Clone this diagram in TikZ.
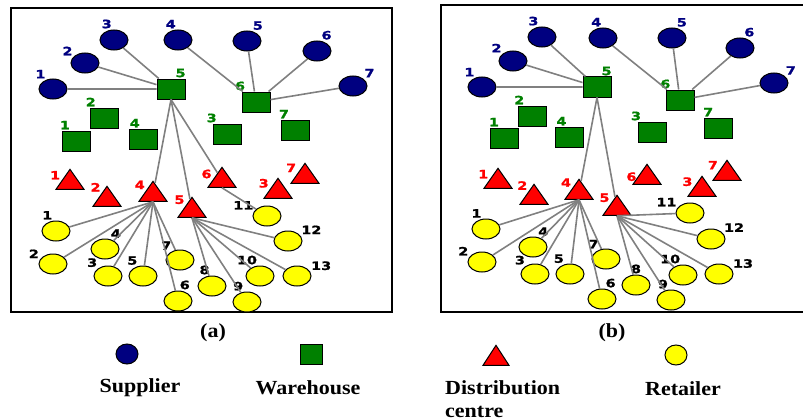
\documentclass[tikz,border=0pt]{standalone}
\usepackage{fontspec}
\setmainfont{Liberation Serif}[FakeStretch=1.1]
\newfontfamily\numfont[FakeStretch=1.25, BoldFeatures={FakeBold=1.2}]{DejaVu Sans}
\usetikzlibrary{positioning}
\usetikzlibrary{shapes.geometric}

\definecolor{supblue}{RGB}{0,0,128}
\definecolor{waregreen}{RGB}{0,128,0}
\definecolor{distred}{RGB}{255,0,0}
\definecolor{retyellow}{RGB}{255,255,0}
\definecolor{linkgray}{RGB}{128,128,128}

\tikzset{
  sup/.style={ellipse, draw=black, line width=1pt, fill=supblue, minimum width=28pt, minimum height=20pt, inner sep=0pt},
  ware/.style={rectangle, draw=black, line width=1pt, fill=waregreen, minimum width=28pt, minimum height=20pt, inner sep=0pt},
  dist/.style={isosceles triangle, isosceles triangle stretches, shape border rotate=90, draw=black, line width=1pt, fill=distred, minimum width=28pt, minimum height=20pt, inner sep=0pt, anchor=apex},
  ret/.style={ellipse, draw=black, line width=1pt, fill=retyellow, minimum width=28pt, minimum height=20pt, inner sep=0pt},
  num/.style={font=\numfont\fontsize{11.5}{11.5}\selectfont\bfseries, inner sep=1pt},
  nsup/.style={num, text=supblue},
  nware/.style={num, text=waregreen},
  ndist/.style={num, text=distred},
  nret/.style={num, text=black},
  link/.style={draw=linkgray, line width=1.6pt},
  panel/.style={draw=black, line width=2.5pt},
  legtxt/.style={font=\fontsize{20}{23}\selectfont\bfseries, inner sep=0pt},
}

\begin{document}
\begin{tikzpicture}[x=1pt, y=-1pt]
    \useasboundingbox (0,0) rectangle (803,420);
    \clip (0,0) rectangle (803,420);

    % panel (a)
    \draw[panel] (11,8) rectangle (392,312);

    \node[sup, label={[nsup]124:1}] (as1) at (53,89)  {};
    \node[sup, label={[nsup]150:2}] (as2) at (85,63)  {};
    \node[sup, label={[nsup]96:3}]  (as3) at (114,40) {};
    \node[sup, label={[nsup]96:4}]  (as4) at (178,40) {};
    \node[sup, label={[nsup]65:5}]  (as5) at (247,41) {};
    \node[sup, label={[nsup]72:6}]  (as6) at (317,51) {};
    \node[sup, label={[nsup]36:7}]  (as7) at (353,86) {};

    \node[ware, label={[nware]115:1}] (aw1) at (76,141)  {};
    \node[ware, label={[nware]124:2}] (aw2) at (104,118) {};
    \node[ware, label={[nware]131:3}] (aw3) at (227,134) {};
    \node[ware, label={[nware]101:4}] (aw4) at (143,139) {};
    \node[ware, label={[nware]72:5}]  (aw5) at (171,89)  {};
    \node[ware, label={[nware]133:6}] (aw6) at (256,102) {};
    \node[ware, label={[nware]115:7}] (aw7) at (295,130) {};

    \node[dist, label={[ndist]171:1}] (ad1) at (70,168)  {};
    \node[dist, label={[ndist]130:2}] (ad2) at (107,185) {};
    \node[dist, label={[ndist]165:3}] (ad3) at (278,177) {};
    \node[dist, label={[ndist]152:4}] (ad4) at (153,180) {};
    \node[dist, label={[ndist]143:5}] (ad5) at (192,196) {};
    \node[dist, label={[ndist]177:6}] (ad6) at (222,166) {};
    \node[dist, label={[ndist]160:7}] (ad7) at (305,162) {};

    \node[ret, label={[nret]104:1}]  (ar1)  at (56,231)  {};
    \node[ret, label={[nret]160:2}]  (ar2)  at (53,264)  {};
    \node[ret, label={[nret]141:3}]  (ar3)  at (108,276) {};
    \node[ret, label={[nret]65:4}]   (ar4)  at (105,249) {};
    \node[ret, label={[nret]114:5}]  (ar5)  at (143,276) {};
    \node[ret, label={[nret]87:6}]   (ar6)  at (178,301) {};
    \node[ret, label={[nret]130:7}]  (ar7)  at (180,260) {};
    \node[ret, label={[nret]97:8}]   (ar8)  at (212,286) {};
    \node[ret, label={[nret]104:9}]  (ar9)  at (247,302) {};
    \node[ret, label={[nret]100:10}] (ar10) at (260,276) {};
    \node[ret, label={[nret]157:11}] (ar11) at (267,216) {};
    \node[ret, label={[nret]25:12}]  (ar12) at (288,241) {};
    \node[ret, label={[nret]20:13}]  (ar13) at (297,276) {};

    \draw[link] (as1) -- (aw5) (as2) -- (aw5) (as3) -- (aw5);
    \draw[link] (as4) -- (aw6) (as5) -- (aw6) (as6) -- (aw6) (as7) -- (aw6);
    \draw[link] (aw5.south) edge (ad4) edge (ad5) edge (ad6);
    \draw[link] (ad4.lower side) edge (ar1) edge (ar2) edge (ar3) edge (ar4) edge (ar5) edge (ar6) edge (ar7);
    \draw[link] (ad5.lower side) edge (ar8) edge (ar9) edge (ar10) edge (ar12) edge (ar13);
    \draw[link] (ad6.lower side) edge (ar11);

    % panel (b)
    \draw[panel] (441,5) rectangle (812,312);

    \node[sup, label={[nsup]124:1}] (bs1) at (482,87) {};
    \node[sup, label={[nsup]144:2}] (bs2) at (513,61) {};
    \node[sup, label={[nsup]103:3}] (bs3) at (542,37) {};
    \node[sup, label={[nsup]93:4}]  (bs4) at (603,38) {};
    \node[sup, label={[nsup]70:5}]  (bs5) at (672,38) {};
    \node[sup, label={[nsup]73:6}]  (bs6) at (740,48) {};
    \node[sup, label={[nsup]34:7}]  (bs7) at (774,83) {};

    \node[ware, label={[nware]110:1}] (bw1) at (504,138) {};
    \node[ware, label={[nware]122:2}] (bw2) at (532,116) {};
    \node[ware, label={[nware]133:3}] (bw3) at (652,132) {};
    \node[ware, label={[nware]97:4}]  (bw4) at (569,137) {};
    \node[ware, label={[nware]72:5}]  (bw5) at (597,87)  {};
    \node[ware, label={[nware]129:6}] (bw6) at (680,100) {};
    \node[ware, label={[nware]109:7}] (bw7) at (718,128) {};

    \node[dist, label={[ndist]170:1}] (bd1) at (498,167) {};
    \node[dist, label={[ndist]132:2}] (bd2) at (534,183) {};
    \node[dist, label={[ndist]168:3}] (bd3) at (702,175) {};
    \node[dist, label={[ndist]149:4}] (bd4) at (579,178) {};
    \node[dist, label={[ndist]143:5}] (bd5) at (617,194) {};
    \node[dist, label={[ndist]178:6}] (bd6) at (647,163) {};
    \node[dist, label={[ndist]163:7}] (bd7) at (727,159) {};

    \node[ret, label={[nret]108:1}]  (br1)  at (486,229) {};
    \node[ret, label={[nret]157:2}]  (br2)  at (482,262) {};
    \node[ret, label={[nret]137:3}]  (br3)  at (535,274) {};
    \node[ret, label={[nret]68:4}]   (br4)  at (533,247) {};
    \node[ret, label={[nret]117:5}]  (br5)  at (570,274) {};
    \node[ret, label={[nret]77:6}]   (br6)  at (602,299) {};
    \node[ret, label={[nret]123:7}]  (br7)  at (606,259) {};
    \node[ret, label={[nret]90:8}]   (br8)  at (636,285) {};
    \node[ret, label={[nret]100:9}]  (br9)  at (671,300) {};
    \node[ret, label={[nret]99:10}]  (br10) at (683,275) {};
    \node[ret, label={[nret]156:11}] (br11) at (690,213) {};
    \node[ret, label={[nret]27:12}]  (br12) at (711,239) {};
    \node[ret, label={[nret]21:13}]  (br13) at (719,274) {};

    \draw[link] (bs1) -- (bw5) (bs2) -- (bw5) (bs3) -- (bw5);
    \draw[link] (bs4) -- (bw6) (bs5) -- (bw6) (bs6) -- (bw6) (bs7) -- (bw6);
    \draw[link] (bw5.south) edge (bd4) edge (bd5);
    \draw[link] (bd4.lower side) edge (br1) edge (br2) edge (br3) edge (br4) edge (br5) edge (br6) edge (br7);
    \draw[link] (bd5.lower side) edge (br8) edge (br9) edge (br10) edge (br11) edge (br12) edge (br13);

    % captions and legend
    \node[legtxt] (capa) at (213,333) {(a)};
    \node[legtxt] (capb) at (612,333) {(b)};

    \node[sup, minimum width=22pt]  (lsup)  at (127,354) {};
    \node[ware, minimum width=22pt] (lware) at (311,354) {};
    \node[dist, minimum width=26pt] (ldist) at (496,344) {};
    \node[ret, minimum width=22pt]  (lret)  at (676,355) {};

    \node[legtxt, below=14pt of lsup, xshift=13pt]  (lsupt)  {Supplier};
    \node[legtxt, below=16pt of lware, xshift=-3pt] (lwaret) {Warehouse};
    \node[legtxt, below=16pt of lret, xshift=7pt]   (lrett)  {Retailer};
    \node[legtxt, align=left, anchor=north west] (ldistt) at (445,380) {Distribution\\centre};
\end{tikzpicture}
\end{document}
